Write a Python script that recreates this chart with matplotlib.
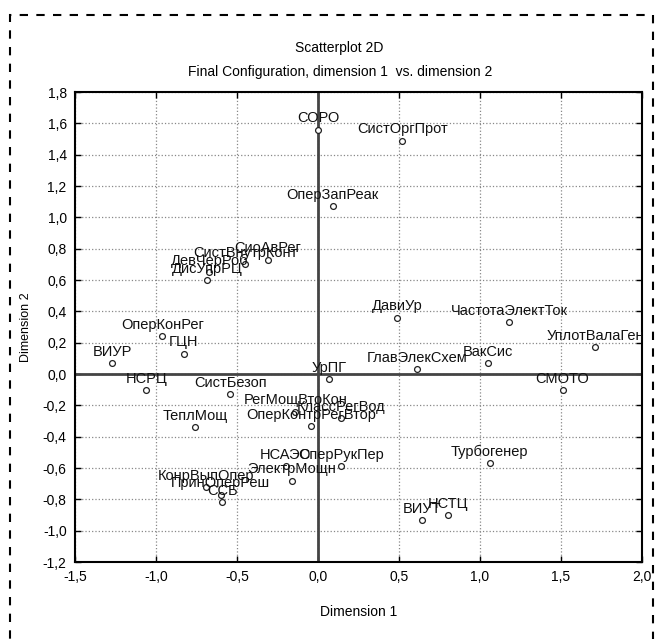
import numpy as np
import matplotlib.pyplot as plt
from matplotlib.patches import Rectangle
from matplotlib.ticker import FuncFormatter

plt.rcParams['font.family'] = ['Liberation Sans', 'DejaVu Sans']

# MDS configuration
names = ['СОРО', 'СистОргПрот', 'ОперЗапРеак', 'СиоАвРег', 'СистВнутрКонт',
         'ДевЧерРоб', 'ДисУпрРЦ', 'ОперКонРег', 'ГЦН', 'ВИУР', 'НСРЦ',
         'СистБезоп', 'ТеплМощ', 'УрПГ', 'РегМощВтоКон', 'ОперКонтрРегВтор',
         'КлассРегВод', 'ДавиУр', 'ЧастотаЭлектТок', 'УплотВалаГен',
         'ГлавЭлекСхем', 'ВакСис', 'СМОТО', 'Турбогенер', 'ВИУТ', 'НСТЦ',
         'НСАЭС', 'ЭлектрМощн', 'ОперРукПер', 'КонрВыпОпер', 'ПринОперРеш', 'ССБ']
dim1 = [0.00, 0.52, 0.09, -0.31, -0.45,
        -0.67, -0.685, -0.96, -0.83, -1.27, -1.06,
        -0.54, -0.76, 0.07, -0.14, -0.04,
        0.14, 0.49, 1.18, 1.71,
        0.61, 1.05, 1.51, 1.06, 0.64, 0.80,
        -0.20, -0.16, 0.14, -0.69, -0.60, -0.59]
dim2 = [1.56, 1.49, 1.07, 0.73, 0.70,
        0.65, 0.60, 0.24, 0.13, 0.07, -0.10,
        -0.13, -0.34, -0.03, -0.24, -0.33,
        -0.28, 0.36, 0.33, 0.17,
        0.03, 0.07, -0.10, -0.57, -0.93, -0.90,
        -0.59, -0.68, -0.59, -0.72, -0.77, -0.82]

x_ticks = np.arange(-1.5, 2.01, 0.5)
y_ticks = np.arange(-1.2, 1.81, 0.2)

fig = plt.figure(figsize=(6.6, 6.39), dpi=100)
ax = fig.add_axes([0.1136, 0.1205, 0.8591, 0.7355])

ax.plot(dim1, dim2, linestyle='none', marker='o', markersize=4.2,
        markerfacecolor='white', markeredgecolor='#222222', markeredgewidth=0.9, zorder=3)
for n, x, y in zip(names, dim1, dim2):
    ax.annotate(n, (x, y), xytext=(0, 3), textcoords='offset points',
                ha='center', va='bottom', fontsize=10.5, color='#111111',
                clip_on=True, zorder=4)

ax.axhline(0, color='#444444', linewidth=2, zorder=2)
ax.axvline(0, color='#444444', linewidth=2, zorder=2)

ax.set_xlim(-1.5, 2.0)
ax.set_ylim(-1.2, 1.8)
ax.set_xticks(x_ticks)
ax.set_yticks(y_ticks)
comma = FuncFormatter(lambda v, p: f'{v:.1f}'.replace('.', ',').replace('-0,0', '0,0'))
ax.xaxis.set_major_formatter(comma)
ax.yaxis.set_major_formatter(comma)
ax.tick_params(direction='in', top=True, right=True, length=4, width=1,
               labelsize=10, pad=6)
ax.grid(True, linestyle=':', color='#888888', linewidth=0.9)
ax.set_axisbelow(True)
for s in ax.spines.values():
    s.set_linewidth(1.5)

ax.set_xlabel('Dimension 1', fontsize=10, labelpad=15)
ax.set_ylabel('Dimension 2', fontsize=9, labelpad=8)

fig.text(0.514, 0.925, 'Scatterplot 2D', ha='center', va='center', fontsize=10)
fig.text(0.516, 0.887, 'Final Configuration, dimension 1  vs. dimension 2',
         ha='center', va='center', fontsize=10)

fig.patches.append(Rectangle((10 / 660, -0.05), 643 / 660, 1.05 - 15 / 639,
                             transform=fig.transFigure, fill=False,
                             edgecolor='black', linewidth=1.5,
                             linestyle=(0, (4, 4))))

fig.savefig('out.png', dpi=100)
